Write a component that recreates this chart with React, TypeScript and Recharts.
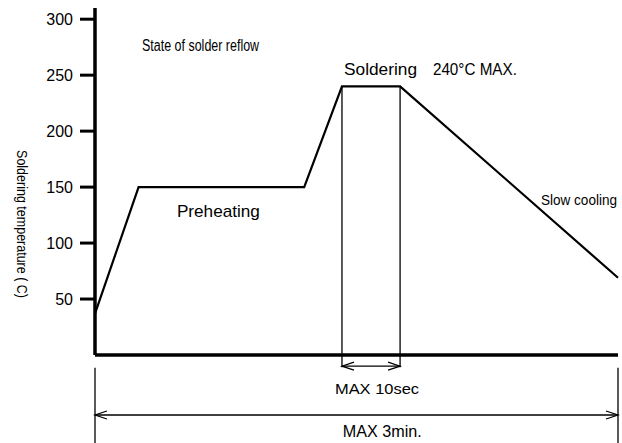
import React from "react";
import {
  LineChart,
  Line,
  XAxis,
  YAxis,
  ReferenceLine,
  ReferenceDot,
} from "recharts";

// reflow profile, time in seconds (schematic, not to scale) vs temperature in C
const time = [0, 15, 72, 85, 105, 180];
const temperature = [37, 150, 150, 240, 240, 69];
const yTicks = [50, 100, 150, 200, 250, 300];

// soldering window and total time span
const solderWindow = [85, 105];
const totalSpan = [0, 180];

const notes = [
  { text: "State of solder reflow", x: 16.2, y: 272, size: 16, len: 117 },
  { text: "Soldering", x: 85.7, y: 250, size: 17, len: 73 },
  { text: "240°C MAX.", x: 116.3, y: 250, size: 17, len: 84 },
  { text: "Preheating", x: 28.2, y: 123, size: 17, len: 83 },
  { text: "Slow cooling", x: 153.5, y: 134, size: 14, len: 76 },
  { text: "MAX  10sec", x: 82.6, y: -34.8, size: 15.5, len: 84 },
  { text: "MAX 3min.", x: 85.3, y: -73.2, size: 16.5, len: 79 },
];

const data = time.map((t, i) => ({ t, temp: temperature[i] }));

const SANS = "'Liberation Sans', Arial, sans-serif";

export default function App() {
  return (
    <div
      style={{
        position: "absolute",
        left: 0,
        top: 0,
        width: 622,
        height: 443,
        background: "#fff",
      }}
    >
      <LineChart
        width={622}
        height={443}
        data={data}
        margin={{ top: 8, right: 4, bottom: 0, left: 0 }}
      >
        <defs>
          <marker
            id="arrow"
            markerUnits="userSpaceOnUse"
            markerWidth={16}
            markerHeight={12}
            viewBox="-14 -6 16 12"
            refX={0}
            refY={0}
            orient="auto-start-reverse"
          >
            <path d="M-12,-4 L0,0 L-12,4" fill="none" stroke="#000" strokeWidth={1.3} />
          </marker>
        </defs>
        <XAxis
          type="number"
          dataKey="t"
          domain={[0, 180]}
          tick={false}
          tickLine={false}
          height={88}
          axisLine={{ stroke: "#000", strokeWidth: 3.5 }}
        />
        <YAxis
          type="number"
          domain={[0, 310]}
          ticks={yTicks}
          width={95}
          tickSize={15}
          tickMargin={7}
          allowDataOverflow
          fontSize={16}
          fontFamily={SANS}
          tickLine={{ stroke: "#000", strokeWidth: 3 }}
          axisLine={{ stroke: "#000", strokeWidth: 3.5 }}
          tick={{ fill: "#000", fontSize: 16, fontFamily: SANS }}
        />
        {solderWindow.map((x) => (
          <ReferenceLine
            key={x}
            segment={[
              { x, y: 240 },
              { x, y: -11 },
            ]}
            stroke="#000"
            strokeWidth={1.3}
            ifOverflow="visible"
          />
        ))}
        <ReferenceLine
          segment={[
            { x: solderWindow[0], y: -10 },
            { x: solderWindow[1], y: -10 },
          ]}
          stroke="#000"
          strokeWidth={1.3}
          markerStart="url(#arrow)"
          markerEnd="url(#arrow)"
          ifOverflow="visible"
        />
        {totalSpan.map((x) => (
          <ReferenceLine
            key={"span" + x}
            segment={[
              { x, y: -11.5 },
              { x, y: -80 },
            ]}
            stroke="#000"
            strokeWidth={1.3}
            ifOverflow="visible"
          />
        ))}
        <ReferenceLine
          segment={[
            { x: totalSpan[0], y: -53.6 },
            { x: totalSpan[1], y: -53.6 },
          ]}
          stroke="#000"
          strokeWidth={1.3}
          markerStart="url(#arrow)"
          markerEnd="url(#arrow)"
          ifOverflow="visible"
        />
        <Line
          type="linear"
          dataKey="temp"
          stroke="#000"
          strokeWidth={2.2}
          dot={false}
          isAnimationActive={false}
        />
        {notes.map((n) => (
          <ReferenceDot
            key={n.text}
            x={n.x}
            y={n.y}
            r={0}
            ifOverflow="visible"
            shape={(p: any) => (
              <text
                x={p.cx}
                y={p.cy}
                fontSize={n.size}
                fontFamily={SANS}
                textLength={n.len}
                lengthAdjust="spacingAndGlyphs"
                fill="#000"
              >
                {n.text}
              </text>
            )}
          />
        ))}
        <ReferenceDot
          x={-25.1}
          y={117}
          r={0}
          ifOverflow="visible"
          shape={(p: any) => (
            <text
              x={p.cx}
              y={p.cy}
              transform={`rotate(90 ${p.cx} ${p.cy})`}
              textAnchor="middle"
              dominantBaseline="central"
              fontSize={15.5}
              fontFamily={SANS}
              textLength={148}
              lengthAdjust="spacingAndGlyphs"
              fill="#000"
            >
              Soldering temperature ( C)
            </text>
          )}
        />
      </LineChart>
    </div>
  );
}
